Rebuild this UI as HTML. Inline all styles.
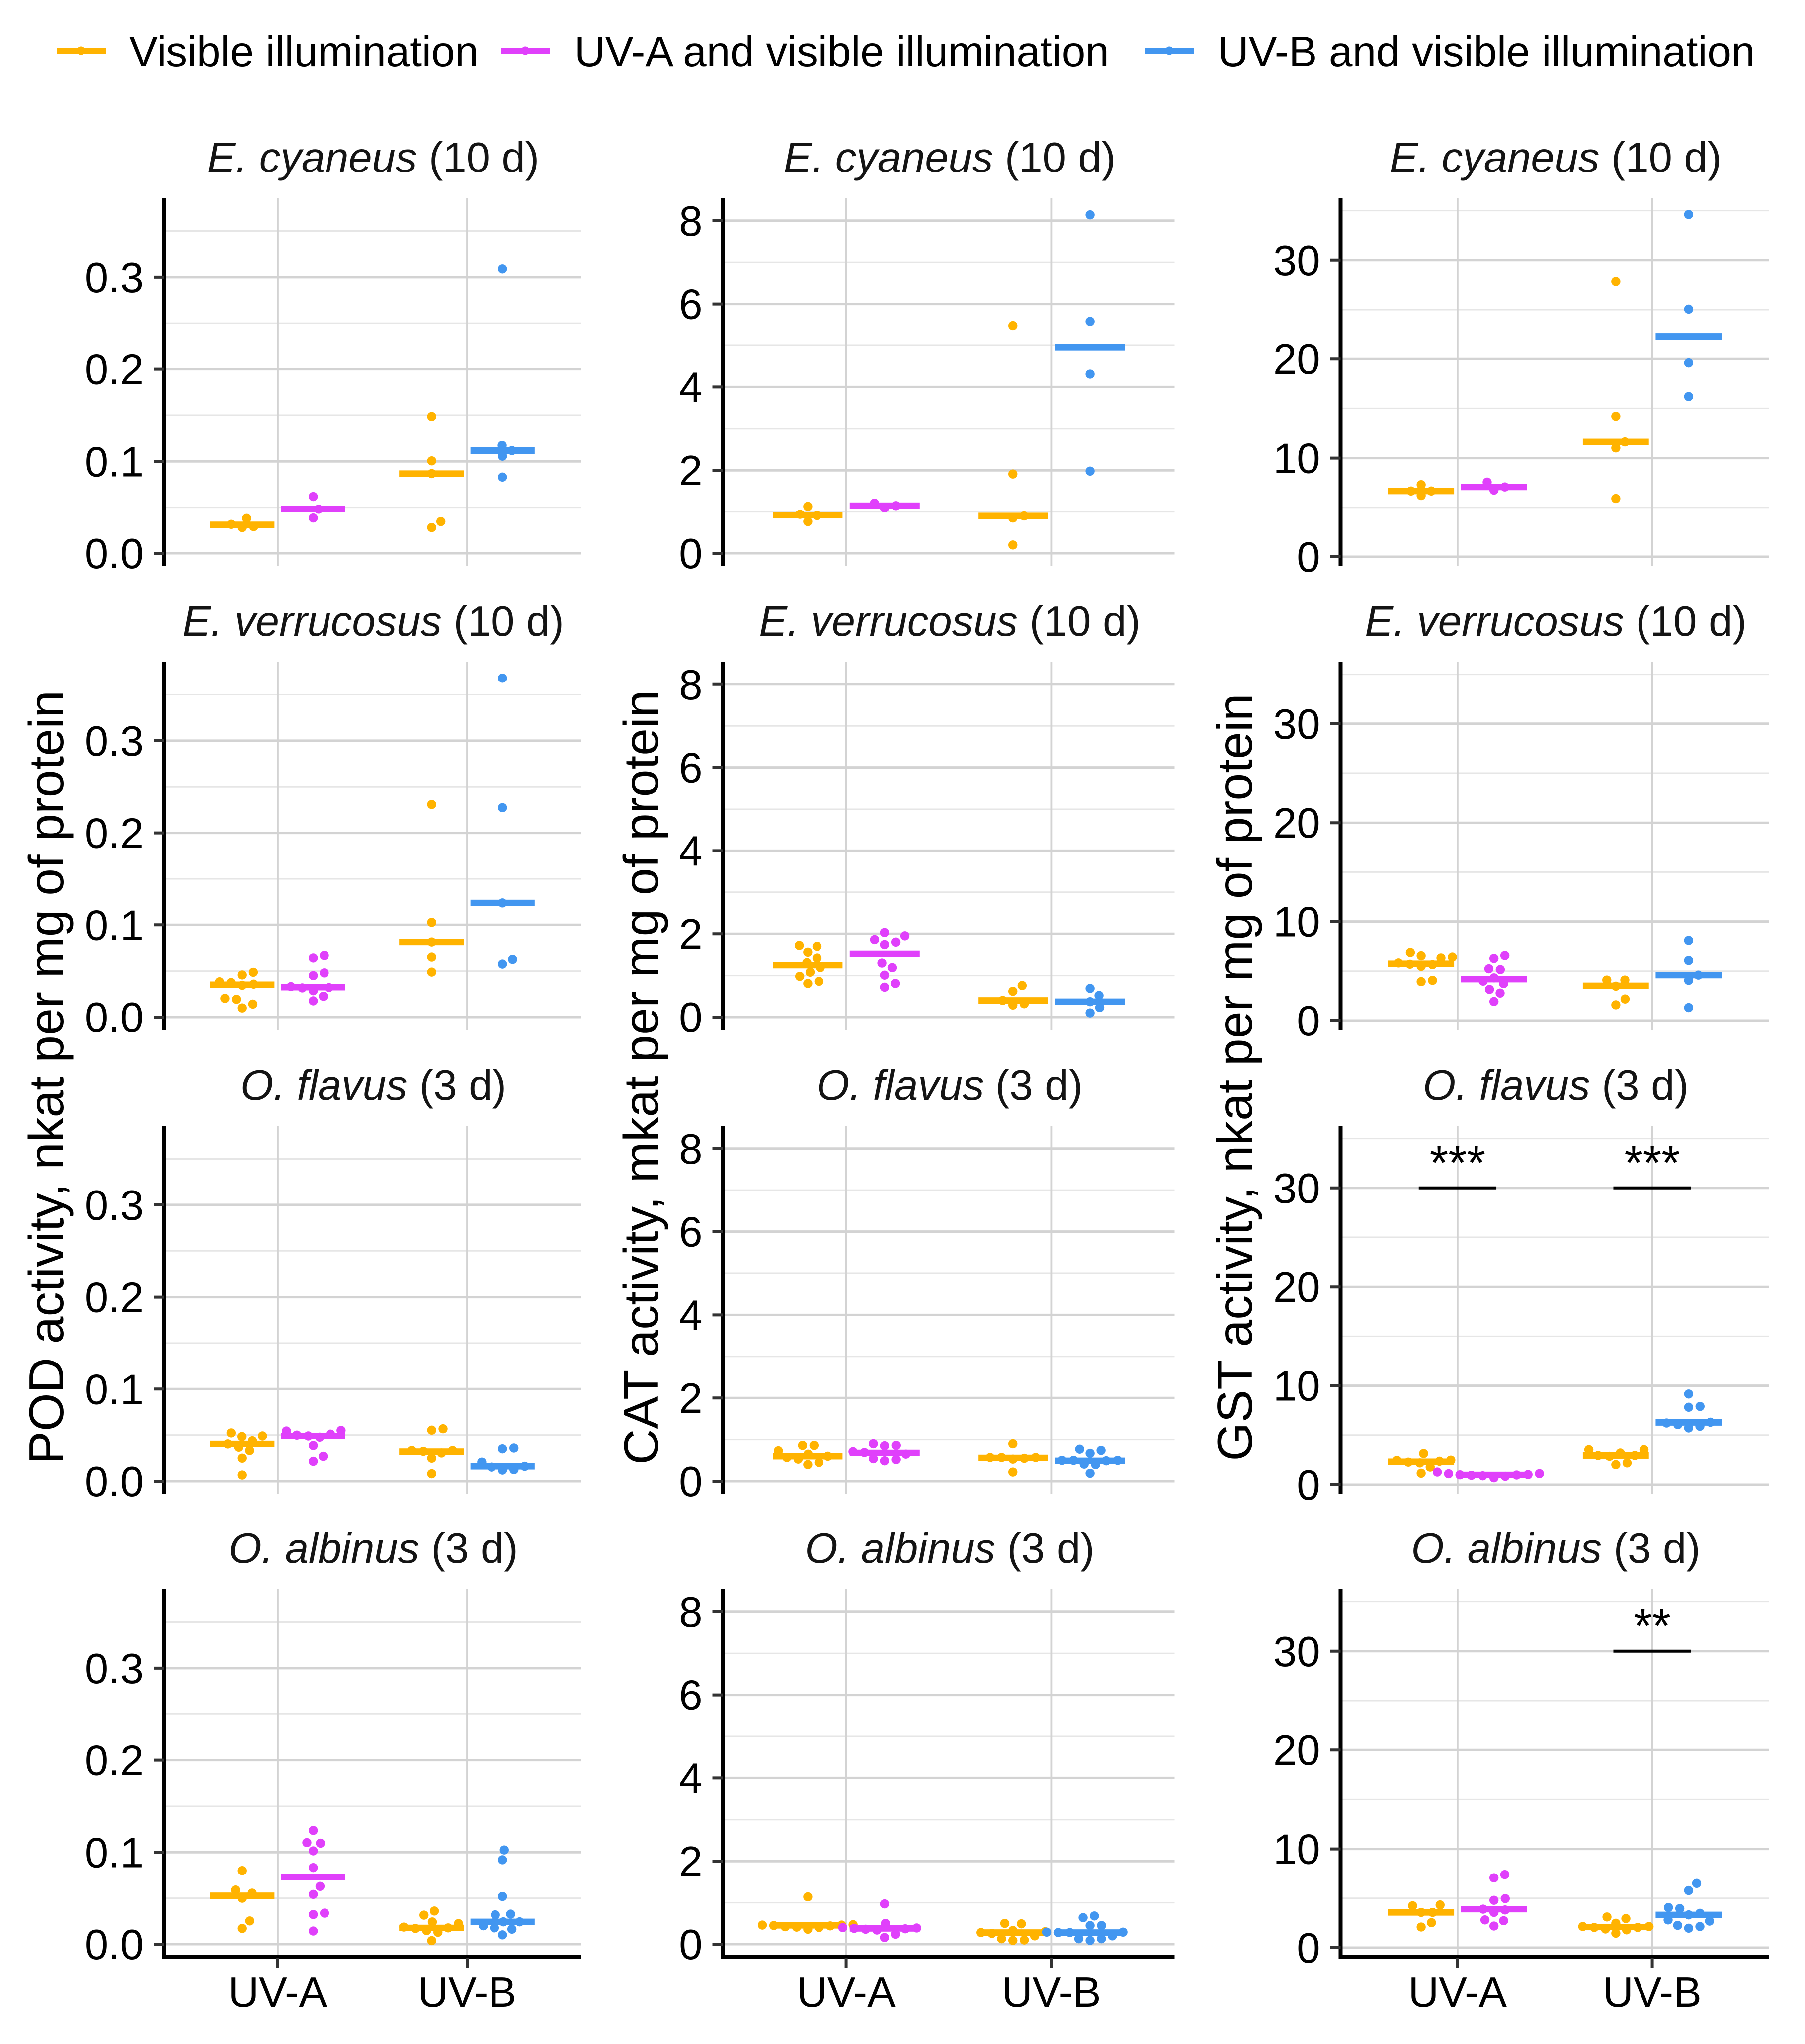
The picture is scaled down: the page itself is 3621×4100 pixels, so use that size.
<!DOCTYPE html>
<html lang="en">
<head>
<meta charset="utf-8">
<title>Enzyme activity by species and UV treatment</title>
<style>
html,body{margin:0;padding:0;background:#fff;}
svg{display:block;font-family:"Liberation Sans",Arial,sans-serif;}
.ttl{font-size:85px;fill:#141414;text-anchor:middle;}
.ttl .sp{font-style:italic;}
.lg{font-size:85.4px;fill:#000;}
.yt{font-size:98.8px;fill:#000;text-anchor:middle;}
</style>
</head>
<body>
<svg id="chart" xmlns="http://www.w3.org/2000/svg" width="3621" height="4100" viewBox="0 0 3621 4100">
<rect width="3621" height="4100" fill="#fff"/>
<g id="panels"></g>

<g>
  <g>
    <rect x="114" y="96" width="98" height="12.5" fill="#FFB300"/>
    <circle cx="162.5" cy="102" r="8.5" fill="#FFB300"/>
    <text class="lg" x="259" y="133">Visible illumination</text>
  </g>
  <g>
    <rect x="1005" y="96" width="98" height="12.5" fill="#E040FB"/>
    <circle cx="1054" cy="102" r="8.5" fill="#E040FB"/>
    <text class="lg" x="1152" y="133">UV-A and visible illumination</text>
  </g>
  <g>
    <rect x="2297" y="96" width="98" height="12.5" fill="#4296F0"/>
    <circle cx="2346" cy="102" r="8.5" fill="#4296F0"/>
    <text class="lg" x="2443" y="133">UV-B and visible illumination</text>
  </g>
</g>

<g>
  <text class="yt" transform="translate(127 2161) rotate(-90)">POD activity, nkat per mg of protein</text>
  <text class="yt" transform="translate(1320 2161) rotate(-90)">CAT activity, mkat per mg of protein</text>
  <text class="yt" transform="translate(2511 2161) rotate(-90)">GST activity, nkat per mg of protein</text>
</g>

<g>
  <text class="ttl" x="749" y="345"><tspan class="sp">E. cyaneus</tspan> (10 d)</text>
  <text class="ttl" x="1905" y="345"><tspan class="sp">E. cyaneus</tspan> (10 d)</text>
  <text class="ttl" x="3121" y="345"><tspan class="sp">E. cyaneus</tspan> (10 d)</text>
  <text class="ttl" x="749" y="1275"><tspan class="sp">E. verrucosus</tspan> (10 d)</text>
  <text class="ttl" x="1905" y="1275"><tspan class="sp">E. verrucosus</tspan> (10 d)</text>
  <text class="ttl" x="3121" y="1275"><tspan class="sp">E. verrucosus</tspan> (10 d)</text>
  <text class="ttl" x="749" y="2206"><tspan class="sp">O. flavus</tspan> (3 d)</text>
  <text class="ttl" x="1905" y="2206"><tspan class="sp">O. flavus</tspan> (3 d)</text>
  <text class="ttl" x="3121" y="2206"><tspan class="sp">O. flavus</tspan> (3 d)</text>
  <text class="ttl" x="749" y="3135"><tspan class="sp">O. albinus</tspan> (3 d)</text>
  <text class="ttl" x="1905" y="3135"><tspan class="sp">O. albinus</tspan> (3 d)</text>
  <text class="ttl" x="3121" y="3135"><tspan class="sp">O. albinus</tspan> (3 d)</text>
</g>
</svg>

<script>
// ---- chart data: each panel lists groups UV-A visible, UV-A treated, UV-B visible, UV-B treated ----
const categories = ['UV-A', 'UV-B'];
const seriesNames = ['visible', 'uva', 'uvb'];
const speciesNames = ['cyaneus', 'verrucosus', 'flavus', 'albinus'];
const enzymeNames = ['pod', 'cat', 'gst'];

const podTicks = [0, 0.1, 0.2, 0.3];
const podTickLabels = ['0.0', '0.1', '0.2', '0.3'];
const podMinorTicks = [0.05, 0.15, 0.25, 0.35];
const catTicks = [0, 2, 4, 6, 8];
const catTickLabels = ['0', '2', '4', '6', '8'];
const catMinorTicks = [1, 3, 5, 7];
const gstTicks = [0, 10, 20, 30];
const gstTickLabels = ['0', '10', '20', '30'];
const gstMinorTicks = [5, 15, 25, 35];

const podCyaneus = [[.0315,.028,.029,.038],[.0617,.0384,.048],[.1485,.1006,.0867,.0345,.028],[.309,.1174,.1118,.1057,.0829]];
const podCyaneusMeans = [.031,.048,.0867,.1118];
const catCyaneus = [[1.13,.94,.91,.765],[1.208,1.147,1.093],[5.48,1.91,.90,.85,.2],[8.14,5.58,4.31,1.98]];
const catCyaneusMeans = [.917,1.147,.9,4.95];
const gstCyaneus = [[7.3,6.66,6.66,6.2],[7.56,7.07,6.75],[27.85,14.2,11.64,11.03,5.9],[34.6,25.05,19.6,16.2]];
const gstCyaneusMeans = [6.66,7.07,11.64,22.3];

const podVerrucosus = [[.0487,.0458,.0383,.0375,.0346,.0358,.0203,.0193,.0099,.0141],[.0669,.0642,.048,.0451,.0331,.0317,.0286,.0321,.0226,.0176],[.231,.1027,.0814,.0652,.0489],[.368,.2275,.1238,.0627,.0576]];
const podVerrucosusMeans = [.0352,.0325,.0814,.1238];
const catVerrucosus = [[1.72,1.70,1.56,1.42,1.31,1.19,1.08,.98,.86,.81],[2.03,1.95,1.86,1.8,1.74,1.3,1.19,1.01,.81,.72],[.76,.62,.4,.29,.32],[.69,.52,.37,.23,.1]];
const catVerrucosusMeans = [1.25,1.52,.4,.37];
const gstVerrucosus = [[6.88,6.55,6.33,6.42,5.83,5.7,5.66,5.49,4.07,3.94],[6.58,6.28,5.24,5.16,4.32,3.99,3.74,3.15,2.78,1.93],[4.1,4.1,3.48,2.18,1.59],[8.09,6.08,4.6,4.07,1.31]];
const gstVerrucosusMeans = [5.75,4.19,3.52,4.6];

const podFlavus = [[.0523,.049,.0483,.0438,.0404,.0369,.0333,.025,.0067],[.055,.0544,.051,.0499,.049,.0477,.0387,.027,.0216],[.0568,.0553,.0333,.0324,.0333,.0306,.025,.0081],[.036,.0351,.0207,.0153,.0162,.0121,.0126]];
const podFlavusMeans = [.0404,.049,.0321,.0162];
const catFlavus = [[.86,.86,.73,.65,.6,.57,.53,.45,.4],[.9,.85,.86,.71,.69,.65,.54,.49,.52],[.9,.57,.57,.55,.57,.53,.22],[.77,.74,.67,.5,.5,.5,.49,.41,.4,.19]];
const catFlavusMeans = [.6,.68,.56,.49];
const gstFlavus = [[3.15,2.45,2.28,2.2,2.37,2.48,1.78,1.16],[1.28,1.12,1.11,1.03,1.0,.98,.95,.85,.9,.7],[3.54,3.54,3.2,2.95,2.87,2.95,2.03,2.2],[9.16,7.82,7.9,6.3,6.22,6.06,5.72,5.89]];
const gstFlavusMeans = [2.32,.99,2.95,6.28];

const podAlbinus = [[.08,.0589,.0555,.05,.0253,.0171],[.1238,.1105,.1099,.1015,.0833,.0629,.0542,.0338,.0323,.0143],[.0361,.0316,.0242,.0224,.0186,.0171,.0148,.0129,.0177,.0038],[.1025,.0918,.0519,.0319,.0327,.0243,.0243,.02,.0177,.0163,.0101]];
const podAlbinusMeans = [.0527,.073,.0177,.0243];
const catAlbinus = [[1.14,.47,.46,.46,.45,.44,.42,.41,.4,.36],[.97,.5,.40,.39,.38,.37,.36,.34,.24,.16],[.5,.49,.33,.3,.28,.26,.2,.13,.1,.09],[.68,.64,.45,.45,.29,.29,.28,.28,.2,.13,.13,.09]];
const catAlbinusMeans = [.454,.38,.28,.28];
const gstAlbinus = [[4.33,4.24,3.57,3.57,2.53,2.09],[7.4,7.07,4.97,4.8,3.9,3.82,3.57,2.81,2.73,2.19],[3.11,2.95,2.47,2.14,2.14,2.05,2.05,1.89,1.8,1.46],[6.51,5.79,4.07,3.96,3.48,3.32,2.81,2.69,2.26,1.97,2.14]];
const gstAlbinusMeans = [3.57,3.9,2.09,3.32];

const significanceValue = 30;
const gstFlavusSignificance = ['***', '***'];
const gstAlbinusSignificance = ['', '**'];

// ---- layout ----
const NS = 'http://www.w3.org/2000/svg';
const COLORS = ['#FFB300', '#E040FB', '#4296F0'];
const columnBoxes = [
  {left: 329, right: 1165, scale: 1847, zeroOffset: 26},
  {left: 1450.5, right: 2356.5, scale: 83.4, zeroOffset: 26},
  {left: 2689.5, right: 3549, scale: 19.84, zeroOffset: 19}
];
const rowBottoms = [1136, 2066, 2997, 3926];
const PANEL_HEIGHT = 739;
const DOT_R = 9.2, SWARM_X = 23, SWARM_Y = 20, BAR_H = 13;

const panelGrid = [
  [[podCyaneus, podCyaneusMeans, podTicks, podTickLabels, podMinorTicks], [catCyaneus, catCyaneusMeans, catTicks, catTickLabels, catMinorTicks], [gstCyaneus, gstCyaneusMeans, gstTicks, gstTickLabels, gstMinorTicks]],
  [[podVerrucosus, podVerrucosusMeans, podTicks, podTickLabels, podMinorTicks], [catVerrucosus, catVerrucosusMeans, catTicks, catTickLabels, catMinorTicks], [gstVerrucosus, gstVerrucosusMeans, gstTicks, gstTickLabels, gstMinorTicks]],
  [[podFlavus, podFlavusMeans, podTicks, podTickLabels, podMinorTicks], [catFlavus, catFlavusMeans, catTicks, catTickLabels, catMinorTicks], [gstFlavus, gstFlavusMeans, gstTicks, gstTickLabels, gstMinorTicks, gstFlavusSignificance]],
  [[podAlbinus, podAlbinusMeans, podTicks, podTickLabels, podMinorTicks], [catAlbinus, catAlbinusMeans, catTicks, catTickLabels, catMinorTicks], [gstAlbinus, gstAlbinusMeans, gstTicks, gstTickLabels, gstMinorTicks, gstAlbinusSignificance]]
];

function make(tag, attrs, parent) {
  const el = document.createElementNS(NS, tag);
  for (const k in attrs) el.setAttribute(k, attrs[k]);
  parent.appendChild(el);
  return el;
}

// Ascending beeswarm with an elliptical footprint: each point takes the closest-to-centre free slot.
function swarmOffsets(pixelYs, sx, sy) {
  const order = pixelYs.map((y, i) => i).sort((a, b) => pixelYs[b] - pixelYs[a]);
  const placed = [];
  const out = new Array(pixelYs.length);
  order.forEach(i => {
    const y = pixelYs[i];
    const cands = [0];
    placed.forEach(p => {
      const dy = Math.abs(p.y - y);
      if (dy < sy) {
        const w = sx * Math.sqrt(1 - (dy * dy) / (sy * sy));
        cands.push(p.x + w, p.x - w);
      }
    });
    const free = cands.filter(x => placed.every(p => {
      const dx = (p.x - x) / sx, dy = (p.y - y) / sy;
      return dx * dx + dy * dy >= 0.999;
    }));
    free.sort((a, b) => (Math.abs(a) - Math.abs(b)) || (b - a));
    const x = free[0];
    placed.push({x: x, y: y});
    out[i] = x;
  });
  return out;
}

const root = document.getElementById('panels');

panelGrid.forEach((rowPanels, r) => {
  rowPanels.forEach((panel, c) => {
    const values = panel[0], means = panel[1], ticks = panel[2], labels = panel[3], minors = panel[4], sig = panel[5];
    const box = columnBoxes[c];
    const bottom = rowBottoms[r], top = bottom - PANEL_HEIGHT;
    const zero = bottom - box.zeroOffset;
    const yScale = v => zero - v * box.scale;
    const step = (box.right - box.left) / 2.2;
    const xCat = i => box.left + 0.6 * step + i * step;
    const id = enzymeNames[c] + '-' + speciesNames[r];

    const g = make('g', {}, root);
    
    

    minors.forEach(v => {
      const line = make('line', {x1: box.left + 3, x2: box.right, y1: yScale(v), y2: yScale(v), stroke: '#e6e6e6', 'stroke-width': 3}, g);
      
      
    });
    ticks.forEach(v => {
      const line = make('line', {x1: box.left + 3, x2: box.right, y1: yScale(v), y2: yScale(v), stroke: '#d3d3d3', 'stroke-width': 5}, g);
      
      
    });
    categories.forEach((cat, i) => {
      const line = make('line', {x1: xCat(i), x2: xCat(i), y1: top, y2: bottom, stroke: '#d3d3d3', 'stroke-width': 3.8}, g);
      
      
    });

    // groups: dots from the values array, bars from the means array
    values.forEach((groupValues, k) => {
      const catIndex = k < 2 ? 0 : 1;
      const seriesIndex = k === 0 || k === 2 ? 0 : catIndex + 1;
      const side = k === 0 || k === 2 ? -1 : 1;
      const cx = xCat(catIndex) + side * 0.1875 * step;
      const color = COLORS[seriesIndex];
      const ys = groupValues.map(yScale);
      const offsets = swarmOffsets(ys, SWARM_X, SWARM_Y);
      ys.forEach((y, j) => {
        const dot = make('circle', {cx: cx + offsets[j], cy: y, r: DOT_R, fill: color}, g);
        
        
      });
      const barW = 0.34 * step;
      const bar = make('rect', {x: cx - barW / 2, y: yScale(means[k]) - BAR_H / 2, width: barW, height: BAR_H, fill: color}, g);
      
      
    });

    // significance annotations
    if (sig) {
      sig.forEach((label, i) => {
        if (!label) return;
        const sy = yScale(significanceValue);
        const hw = 0.2 * step;
        const line = make('line', {x1: xCat(i) - hw, x2: xCat(i) + hw, y1: sy, y2: sy, stroke: '#000', 'stroke-width': 6}, g);
        
        
        const t = make('text', {x: xCat(i), y: sy - 18, 'text-anchor': 'middle', 'font-size': 96, fill: '#000'}, g);
        
        
        t.textContent = label;
      });
    }

    // y axis
    const yAxis = make('line', {x1: box.left, x2: box.left, y1: top, y2: bottom + (r === 3 ? 4 : 0), stroke: '#000', 'stroke-width': 8}, g);
    
    
    ticks.forEach((v, i) => {
      const tick = make('line', {x1: box.left - 21, x2: box.left, y1: yScale(v), y2: yScale(v), stroke: '#333', 'stroke-width': 6}, g);
      
      
      const label = make('text', {x: box.left - 41, y: yScale(v) + 30, 'text-anchor': 'end', 'font-size': 85, fill: '#000'}, g);
      
      
      label.textContent = labels[i];
    });

    // x axis on the bottom row only
    if (r === 3) {
      const xAxis = make('line', {x1: box.left, x2: box.right, y1: bottom, y2: bottom, stroke: '#000', 'stroke-width': 8}, g);
      
      
      categories.forEach((cat, i) => {
        const tick = make('line', {x1: xCat(i), x2: xCat(i), y1: bottom + 2, y2: bottom + 22, stroke: '#333', 'stroke-width': 6}, g);
        
        
        const label = make('text', {x: xCat(i), y: 4025, 'text-anchor': 'middle', 'font-size': 85, fill: '#000'}, g);
        
        
        label.textContent = cat;
      });
    }
  });
});
</script>
</body>
</html>
